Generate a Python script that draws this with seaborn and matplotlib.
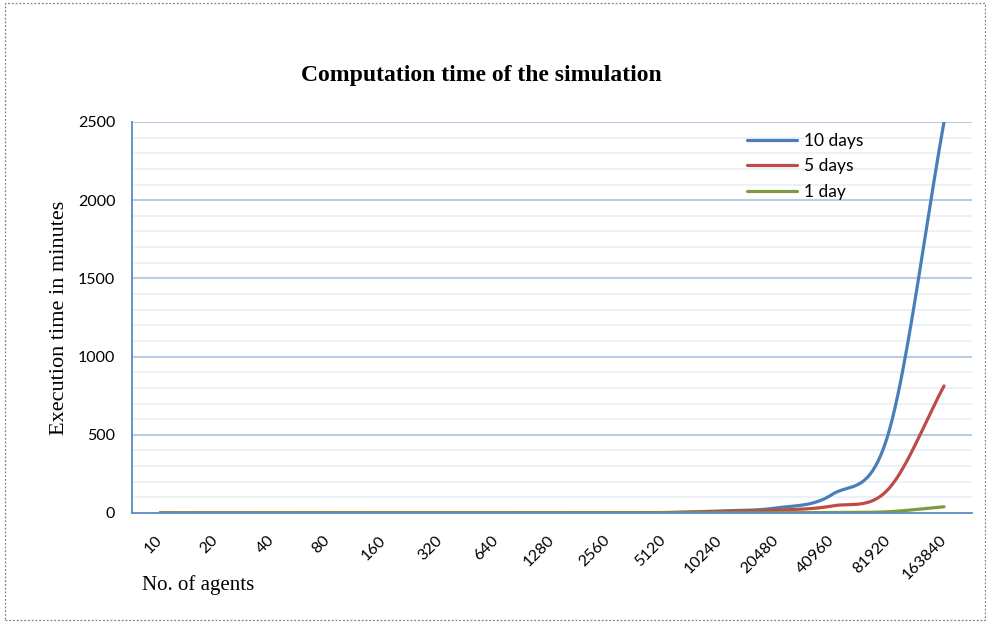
import numpy as np
import pandas as pd
import matplotlib
matplotlib.use("Agg")
import matplotlib.pyplot as plt
from matplotlib.patches import Rectangle
import seaborn as sns

# ---- data ----
agents = ["10", "20", "40", "80", "160", "320", "640", "1280", "2560",
          "5120", "10240", "20480", "40960", "81920", "163840"]
days10 = [0.1, 0.1, 0.2, 0.3, 0.4, 0.5, 0.7, 1.0, 1.5, 3.0, 13, 32, 118, 500, 2500]
days5 = [0.05, 0.05, 0.1, 0.15, 0.2, 0.3, 0.4, 0.6, 1.0, 2.0, 9, 18, 45, 150, 812]
day1 = [0.02, 0.02, 0.03, 0.05, 0.07, 0.1, 0.15, 0.2, 0.3, 0.5, 1, 2, 3, 8, 40]
series_names = ["10 days", "5 days", "1 day"]
colors = ["#4A7EBB", "#BE4B48", "#7E9A40"]

sns.set_theme(style="white")
plt.rcParams["font.family"] = ["Lato", "DejaVu Sans"]
plt.rcParams["text.color"] = "black"


def smooth(y, n=40):
    """Excel-like smoothed line (Bezier with Catmull-Rom control points)."""
    y = np.asarray(y, float)
    x = np.arange(len(y), dtype=float)
    xs, ys = [], []
    for i in range(len(y) - 1):
        p0 = y[i - 1] if i > 0 else 2 * y[i] - y[i + 1]
        p3 = y[i + 2] if i + 2 < len(y) else 2 * y[i + 1] - y[i]
        c1 = y[i] + (y[i + 1] - p0) / 6
        c2 = y[i + 1] - (p3 - y[i]) / 6
        t = np.linspace(0, 1, n, endpoint=False)
        b = ((1 - t) ** 3) * y[i] + 3 * ((1 - t) ** 2) * t * c1 + 3 * (1 - t) * t ** 2 * c2 + t ** 3 * y[i + 1]
        xs.append(x[i] + t)
        ys.append(b)
    xs.append([x[-1]])
    ys.append([y[-1]])
    return np.concatenate(xs), np.concatenate(ys)


frames = []
for name, vals in zip(series_names, [days10, days5, day1]):
    sx, sy = smooth(vals)
    frames.append(pd.DataFrame({"x": sx, "y": sy, "series": name}))
df = pd.concat(frames, ignore_index=True)

fig = plt.figure(figsize=(9.87, 6.22), dpi=100)
ax = fig.add_axes([132 / 987, 1 - 513 / 622, 840 / 987, 391 / 622])

# grid
for v in range(100, 2600, 100):
    if v % 500 != 0:
        ax.axhline(v, color="#EBF0F7", lw=1.3, zorder=0)
for v in range(500, 2600, 500):
    ax.axhline(v, color="#B8CCE4", lw=1.5, zorder=0)

sns.lineplot(data=df, x="x", y="y", hue="series", hue_order=series_names,
             palette=colors, linewidth=2.3, ax=ax, sort=False, legend=True,
             estimator=None)

ax.set_xlim(-0.5, 14.5)
ax.set_ylim(0, 2500)
ax.set_xticks(range(len(agents)))
ax.set_xticklabels(agents, rotation=45, ha="right", va="center",
                   rotation_mode="anchor", fontsize=11.5, color="#000000")
ax.set_xticks(np.arange(-0.5, 15, 1), minor=True)
ax.tick_params(axis="x", which="major", length=0, pad=18)
ax.tick_params(axis="x", which="minor", length=5, width=1.2, color="#5B8AC6", direction="out")
ax.set_yticks(range(0, 2501, 500))
ax.set_yticklabels([str(v) for v in range(0, 2501, 500)], fontsize=11.5, color="#000000")
ax.tick_params(axis="y", which="major", length=0, pad=12)

for s in ["top", "right"]:
    ax.spines[s].set_visible(False)
for s in ["left", "bottom"]:
    ax.spines[s].set_color("#5B8AC6")
    ax.spines[s].set_linewidth(1.3)
ax.set_xlabel("")
ax.set_ylabel("")

leg = ax.legend(loc="upper left", bbox_to_anchor=(608 / 840, 1 - 4 / 391), frameon=False,
                fontsize=12.5, handlelength=2.9, handletextpad=0.4, labelspacing=0.55,
                borderaxespad=0)
for line in leg.get_lines():
    line.set_linewidth(2.3)
for txt in leg.get_texts():
    txt.set_color("black")

fig.text(481 / 987, 1 - 75 / 622, "Computation time of the simulation",
         ha="center", va="center", fontsize=17, fontweight="bold", color="black",
         family=["Liberation Serif", "DejaVu Serif"])
fig.text(60 / 987, 1 - 318 / 622, "Execution time in minutes", rotation=90, color="black",
         ha="center", va="center", fontsize=16, family=["Liberation Serif", "DejaVu Serif"])
fig.text(142 / 987, 1 - 585 / 622, "No. of agents", ha="left", va="center", color="black",
         fontsize=15, family=["Liberation Serif", "DejaVu Serif"])

fig.patches.append(Rectangle((5 / 987, 2 / 622), 980 / 987, 617 / 622,
                             transform=fig.transFigure, fill=False,
                             edgecolor="#808080", linestyle=(0, (1.5, 1.5)), linewidth=0.9))

fig.savefig("out.png", dpi=100)
